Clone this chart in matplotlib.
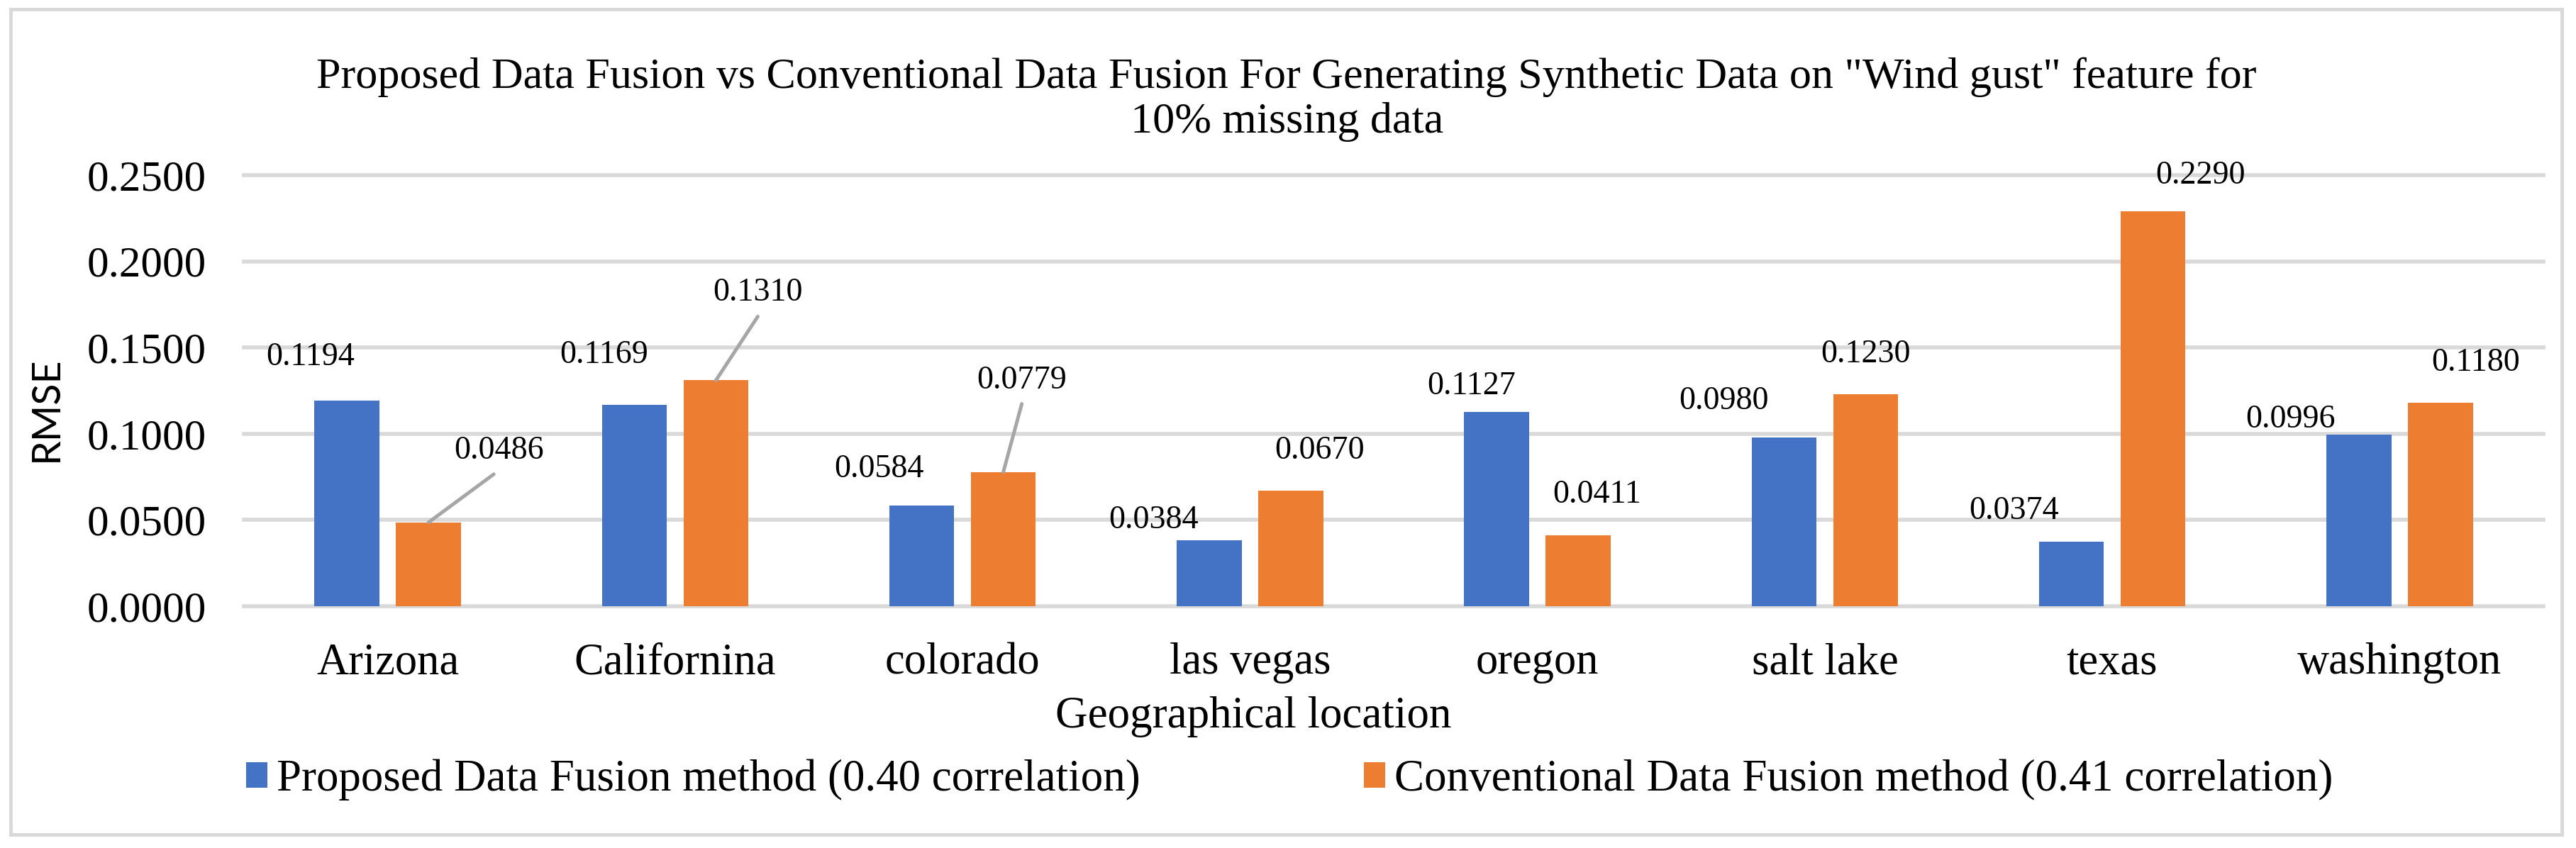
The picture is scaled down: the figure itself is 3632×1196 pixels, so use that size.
import numpy as np
import matplotlib
matplotlib.use("Agg")
import matplotlib.pyplot as plt
from matplotlib.patches import Rectangle
from matplotlib.ticker import FormatStrFormatter

plt.rcParams['font.family'] = ['Liberation Serif', 'DejaVu Serif']

# Data
locations = ["Arizona", "Californina", "colorado", "las vegas",
             "oregon", "salt lake", "texas", "washington"]
proposed = [0.1194, 0.1169, 0.0584, 0.0384, 0.1127, 0.0980, 0.0374, 0.0996]
conventional = [0.0486, 0.1310, 0.0779, 0.0670, 0.0411, 0.1230, 0.2290, 0.1180]
proposed_name = "Proposed Data Fusion method (0.40 correlation)"
conventional_name = "Conventional Data Fusion method (0.41 correlation)"

# label placement (pixels, relative to bar top centre, baseline of text)
prop_dx = [-51, -43, -60, -78, -35, -85, -81, -96]
prop_dy = [50, 59, 40, 17, 25, 40, 32, 10]
conv_dx = [99, 59, 26, 41, 27, 0, 67, 50]
conv_dy = [90, 112, 118, 45, 46, 45, 39, 45]
# leader lines for moved labels: index -> end point (pixels)
conv_leaders = {0: (92, 68), 1: (59, 90), 2: (26, 96)}

DPI = 200
W, H = 3632, 1196
PT = 72 / DPI  # pixels -> points

blue = '#4472C4'
orange = '#ED7D31'
grid_c = '#D9D9D9'

fig = plt.figure(figsize=(W / DPI, H / DPI), dpi=DPI)
ax = fig.add_axes([344 / W, 1 - 855 / H, (3586 - 344) / W, (855 - 247) / H])

x = np.arange(len(locations))
width = 0.226
sep = 0.284
b1 = ax.bar(x - sep / 2, proposed, width, color=blue, label=proposed_name, zorder=2)
b2 = ax.bar(x + sep / 2, conventional, width, color=orange, label=conventional_name, zorder=2)

ax.set_xlim(-0.5, len(locations) - 0.5)
ax.set_ylim(0, 0.25)
ax.set_yticks(np.arange(0, 0.2501, 0.05))
ax.yaxis.set_major_formatter(FormatStrFormatter('%.4f'))
ax.set_xticks(x)
ax.set_xticklabels(locations)
ax.grid(axis='y', color=grid_c, linewidth=2.0, zorder=0)
ax.set_axisbelow(True)
for gl in ax.get_ygridlines():
    gl.set_clip_on(False)
for s in ax.spines.values():
    s.set_visible(False)
ax.tick_params(axis='y', length=0, labelsize=22, pad=19)
ax.tick_params(axis='x', length=0, labelsize=22.5, pad=18.5)

# data labels
for i in range(len(locations)):
    xb = x[i] - sep / 2
    ax.annotate(f"{proposed[i]:.4f}", (xb, proposed[i]),
                xytext=(prop_dx[i] * PT, prop_dy[i] * PT), textcoords='offset points',
                ha='center', va='baseline', fontsize=16.6)
    xo = x[i] + sep / 2
    ax.annotate(f"{conventional[i]:.4f}", (xo, conventional[i]),
                xytext=(conv_dx[i] * PT, conv_dy[i] * PT), textcoords='offset points',
                ha='center', va='baseline', fontsize=16.6)
    if i in conv_leaders:
        ex, ey = conv_leaders[i]
        ax.annotate("", (xo, conventional[i]), xytext=(ex * PT, ey * PT),
                    textcoords='offset points',
                    arrowprops=dict(arrowstyle='-', color='#A6A6A6', lw=1.8,
                                    shrinkA=0, shrinkB=0))

# titles
fig.text(0.4995, 1 - 124 / H,
         'Proposed Data Fusion vs Conventional Data Fusion For Generating Synthetic Data on "Wind gust" feature for',
         ha='center', va='baseline', fontsize=22.35)
fig.text(0.4995, 1 - 187 / H, '10% missing data', ha='center', va='baseline', fontsize=22.35)
fig.text(65 / W, 1 - 577 / H, 'RMSE', rotation=90, ha='center', va='center',
         fontsize=20, family=['Lato', 'DejaVu Sans'])
fig.text(1767 / W, 1 - 1026 / H, 'Geographical location', ha='center', va='baseline',
         fontsize=22.7)

# legend
fig.legend(handles=[b1, b2], loc='center', bbox_to_anchor=(0.5005, 1 - 1100 / H),
           ncol=2, frameon=False, fontsize=22.7, handlelength=0.48, handleheight=0.5,
           handletextpad=0.2, columnspacing=5.0, borderaxespad=0, borderpad=0)

# chart border
fig.add_artist(Rectangle((15 / W, 1 - 1177 / H), (3612 - 15) / W, (1177 - 13) / H,
                         transform=fig.transFigure, fill=False, edgecolor=grid_c, lw=1.8))

fig.savefig('out.png', dpi=DPI)
